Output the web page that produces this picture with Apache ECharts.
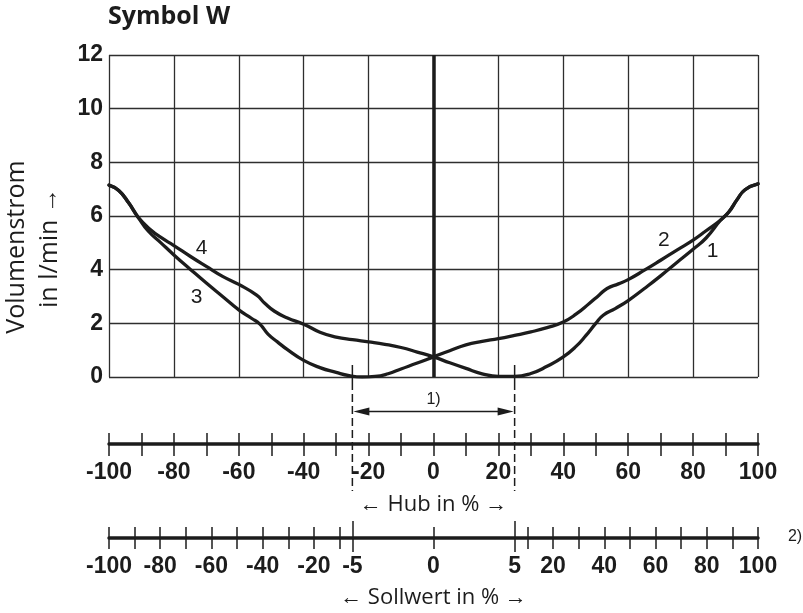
<!DOCTYPE html>
<html>
<head>
<meta charset="utf-8">
<script src="https://cdn.jsdelivr.net/npm/echarts@6/dist/echarts.min.js"></script>
<style>
  html, body { margin: 0; padding: 0; background: #ffffff; }
  #chart { width: 803px; height: 613px; }
</style>
</head>
<body>
<div id="chart"></div>
<script>
// Volumenstrom in l/min over Hub in %: branch through curves 3 (left) and 2 (right)
const curve32 = [
  [-100, 7.15], [-97, 6.95], [-94, 6.5], [-91, 5.95], [-88, 5.45], [-84, 5.0],
  [-80, 4.55], [-75, 4.02], [-70, 3.5], [-65, 3.0], [-60, 2.5], [-56, 2.18],
  [-53.5, 1.97], [-51, 1.6], [-48, 1.3], [-45, 1.02], [-40, 0.62], [-35, 0.35],
  [-30, 0.17], [-26, 0.05], [-22, 0.0], [-18, 0.02], [-14, 0.12], [-10, 0.3],
  [-5, 0.52], [0, 0.75], [5, 0.98], [10, 1.2], [15, 1.33], [20, 1.43],
  [25, 1.55], [30, 1.68], [35, 1.84], [40, 2.05], [44, 2.35], [48, 2.74],
  [51, 3.05], [53.5, 3.3], [57, 3.47], [60, 3.63], [65, 3.98], [70, 4.35],
  [75, 4.73], [80, 5.1], [84, 5.45], [88.5, 5.85], [91, 6.15], [93.5, 6.6],
  [96, 6.98], [100, 7.2]
];
// Branch through curves 4 (left) and 1 (right)
const curve41 = [
  [-100, 7.15], [-97, 6.95], [-94, 6.5], [-91, 5.95], [-87, 5.47], [-84, 5.2],
  [-80, 4.9], [-75, 4.5], [-70, 4.12], [-65, 3.75], [-60, 3.45], [-54.5, 3.05],
  [-52, 2.75], [-49, 2.45], [-45, 2.2], [-40, 1.97], [-35, 1.67], [-30, 1.49],
  [-25, 1.39], [-20, 1.31], [-15, 1.22], [-10, 1.1], [-5, 0.93], [0, 0.75],
  [5, 0.53], [10, 0.32], [15, 0.12], [20, 0.02], [25, 0.02], [30, 0.13],
  [35, 0.4], [40, 0.75], [44, 1.15], [47, 1.55], [50, 2.0], [52.3, 2.3],
  [56, 2.55], [60, 2.85], [65, 3.3], [70, 3.77], [75, 4.27], [80, 4.76],
  [84, 5.18], [88.5, 5.85], [91, 6.15], [93.5, 6.6], [96, 6.98], [100, 7.2]
];

const flowTicks = [0, 2, 4, 6, 8, 10, 12];
const hubTicks = [-100, -90, -80, -70, -60, -50, -40, -30, -20, -10, 0,
                  10, 20, 30, 40, 50, 60, 70, 80, 90, 100];
const hubLabels = [-100, -80, -60, -40, -20, 0, 20, 40, 60, 80, 100];
const sollTicks = [-100, -90, -80, -70, -60, -50, -40, -30, -20, -10, -5, 0, 5,
                   10, 20, 30, 40, 50, 60, 70, 80, 90, 100];
const sollLabels = [-100, -80, -60, -40, -20, -5, 0, 5, 20, 40, 60, 80, 100];
const sollBand = [-5, 5];       // Sollwert limits of the overlap zone
const hubBand = [-25, 25];      // corresponding Hub positions

const curveNames = ['1', '2', '3', '4'];
const curveNameAt = [[86, 4.69], [71, 5.1], [-73, 2.97], [-71.5, 4.8]];

// Sollwert scale is piecewise linear against the Hub scale
function sollToHub(s) {
  if (s <= sollBand[0]) return -100 + (s + 100) * (hubBand[0] + 100) / (sollBand[0] + 100);
  if (s >= sollBand[1]) return hubBand[1] + (s - sollBand[1]) * (100 - hubBand[1]) / (100 - sollBand[1]);
  return s * hubBand[1] / sollBand[1];
}
const sollLabelByHub = {};
sollLabels.forEach(s => { sollLabelByHub[sollToHub(s).toFixed(3)] = String(s); });

const INK = '#1c1c1c';
const GRIDC = '#2e2e2e';
const NUM_FONT = '"Liberation Sans Narrow", "Liberation Sans", Arial, sans-serif';
const TXT_FONT = '"Open Sans", "Noto Sans", sans-serif';

const PLOT = { left: 109, top: 55, width: 649, height: 322 };
const HUB_Y = 444;
const SOLL_Y = 538;

const chart = echarts.init(document.getElementById('chart'), null, { renderer: 'canvas' });

function scaleGrid(y) {
  return { left: PLOT.left, width: PLOT.width, top: y - 1, height: 1, outerBoundsMode: 'none' };
}
function scaleAxis(grid, ticks, len, inside, opts) {
  return Object.assign({
    type: 'value', gridIndex: grid, min: -100, max: 100, position: 'bottom',
    axisLine: { show: false },
    axisTick: { show: true, inside: inside, length: len, customValues: ticks,
                lineStyle: { color: INK, width: 1.5 } },
    axisLabel: { show: false },
    splitLine: { show: false }
  }, opts || {});
}
const numLabel = {
  color: INK, fontFamily: NUM_FONT, fontWeight: 'bold', fontSize: 23
};

const curveStyle = {
  type: 'line', xAxisIndex: 0, yAxisIndex: 0,
  smooth: 0.5, showSymbol: false, silent: true,
  lineStyle: { color: INK, width: 3.3, cap: 'round', join: 'round' }
};

const option = {
  backgroundColor: '#ffffff',
  animation: false,
  grid: [
    Object.assign({ outerBoundsMode: 'none' }, PLOT),
    scaleGrid(HUB_Y),
    scaleGrid(SOLL_Y)
  ],
  xAxis: [
    {
      type: 'value', gridIndex: 0, min: -100, max: 100, interval: 20,
      axisLine: { show: false }, axisTick: { show: false }, axisLabel: { show: false },
      splitLine: { show: true, lineStyle: { color: GRIDC, width: 1.3 } }
    },
    // Hub scale
    scaleAxis(1, hubTicks, 11, true, {
      axisLine: { show: true, lineStyle: { color: INK, width: 3.5 } }
    }),
    scaleAxis(1, hubTicks, 12, false, {
      axisLabel: Object.assign({ show: true, margin: 17, customValues: hubLabels,
                                 formatter: v => String(v) }, numLabel)
    }),
    // Sollwert scale
    scaleAxis(2, sollTicks.map(sollToHub), 11, true, {
      axisLine: { show: true, lineStyle: { color: INK, width: 3.5 } }
    }),
    scaleAxis(2, sollTicks.map(sollToHub), 11, false, {
      axisLabel: Object.assign({ show: true, margin: 17,
                                 customValues: sollLabels.map(sollToHub),
                                 formatter: v => sollLabelByHub[Number(v).toFixed(3)] || '' }, numLabel)
    }),
    scaleAxis(2, sollBand.map(sollToHub), 17, true),
    scaleAxis(2, sollBand.map(sollToHub), 14, false)
  ],
  yAxis: [
    {
      type: 'value', gridIndex: 0, min: 0, max: 12, interval: 2,
      axisLine: { show: false }, axisTick: { show: false },
      axisLabel: Object.assign({ margin: 6, customValues: flowTicks }, numLabel),
      splitLine: { show: true, lineStyle: { color: GRIDC, width: 1.3 } }
    },
    { type: 'value', gridIndex: 1, min: 0, max: 1, show: false },
    { type: 'value', gridIndex: 2, min: 0, max: 1, show: false }
  ],
  series: [
    Object.assign({}, curveStyle, {
      data: curve32,
      markLine: {
        silent: true, symbol: 'none', label: { show: false },
        lineStyle: { color: INK, width: 3.5, type: 'solid' },
        data: [{ xAxis: 0 }]
      }
    }),
    Object.assign({}, curveStyle, { data: curve41 })
  ]
};
chart.setOption(option);

// Annotations placed through the plot's own scales
const toPx = (x, y) => chart.convertToPixel({ xAxisIndex: 0, yAxisIndex: 0 }, [x, y]);
const xL = toPx(hubBand[0], 0)[0];
const xR = toPx(hubBand[1], 0)[0];
const arrowY = 411.5;
const graphics = [];

[xL, xR].forEach(x => {
  graphics.push({ type: 'line', shape: { x1: x, y1: 365, x2: x, y2: 390 },
                  style: { stroke: INK, lineWidth: 1.5 } });
  graphics.push({ type: 'line', shape: { x1: x, y1: 394, x2: x, y2: 491 },
                  style: { stroke: INK, lineWidth: 1.5, lineDash: [8, 4] } });
});
graphics.push({ type: 'line', shape: { x1: xL + 8, y1: arrowY, x2: xR - 8, y2: arrowY },
                style: { stroke: INK, lineWidth: 1.5 } });
graphics.push({ type: 'polygon', shape: { points: [[xL + 1, arrowY], [xL + 17, arrowY - 4], [xL + 17, arrowY + 4]] },
                style: { fill: INK } });
graphics.push({ type: 'polygon', shape: { points: [[xR - 1, arrowY], [xR - 17, arrowY - 4], [xR - 17, arrowY + 4]] },
                style: { fill: INK } });

const midX = toPx(0, 0)[0];
graphics.push({ type: 'text', x: midX, y: 400, style: {
  text: '1)', fill: INK, font: '16px ' + NUM_FONT, align: 'center', verticalAlign: 'middle' } });
graphics.push({ type: 'text', x: 795, y: 537, style: {
  text: '2)', fill: INK, font: '16px ' + NUM_FONT, align: 'center', verticalAlign: 'middle' } });

graphics.push({ type: 'text', x: midX, y: 505, style: {
  text: '\u2190 Hub in % \u2192', fill: INK, font: '22px ' + TXT_FONT, align: 'center', verticalAlign: 'middle' } });
graphics.push({ type: 'text', x: midX, y: 598, style: {
  text: '\u2190 Sollwert in % \u2192', fill: INK, font: '22px ' + TXT_FONT, align: 'center', verticalAlign: 'middle' } });

graphics.push({ type: 'text', x: 108, y: 17, style: {
  text: 'Symbol W', fill: INK, font: 'bold 25px ' + TXT_FONT, align: 'left', verticalAlign: 'middle' } });

graphics.push({ type: 'text', x: 17, y: 247, rotation: Math.PI / 2, style: {
  text: 'Volumenstrom', fill: INK, font: '25px ' + TXT_FONT, align: 'center', verticalAlign: 'middle' } });
graphics.push({ type: 'text', x: 50, y: 248, rotation: Math.PI / 2, style: {
  text: 'in l/min \u2192', fill: INK, font: '25px ' + TXT_FONT, align: 'center', verticalAlign: 'middle' } });

curveNames.forEach((t, i) => {
  const p = toPx(curveNameAt[i][0], curveNameAt[i][1]);
  graphics.push({ type: 'text', x: p[0], y: p[1], style: {
    text: t, fill: INK, font: '21px ' + NUM_FONT, align: 'center', verticalAlign: 'middle' } });
});

chart.setOption({ graphic: graphics });
</script>
</body>
</html>
